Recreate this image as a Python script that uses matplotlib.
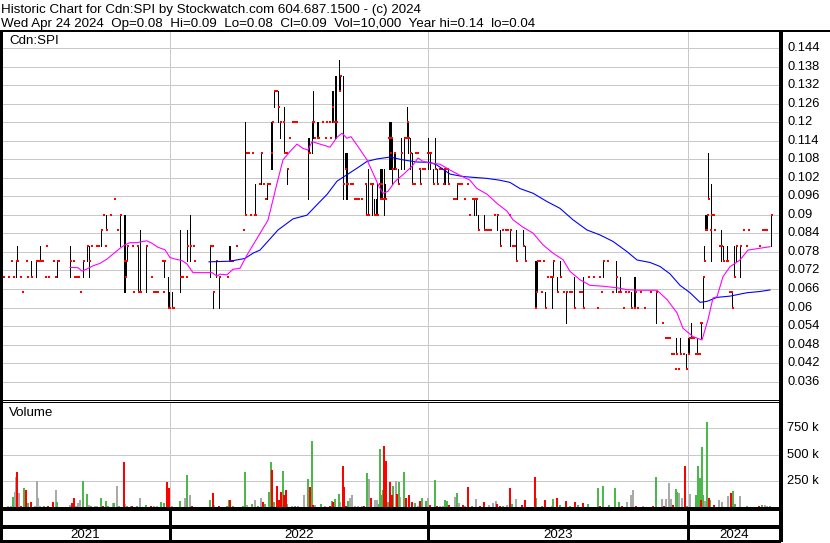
import matplotlib
matplotlib.use('Agg')
import matplotlib.pyplot as plt
from matplotlib.lines import Line2D

plt.rcParams['font.family'] = ['Liberation Sans', 'DejaVu Sans']

W, H, DPI = 830, 543, 100

# ---------------- data (trading-day index) ----------------
price_day = [1, 3, 8, 11, 13, 16, 17, 20, 22, 26, 27, 31, 36, 38, 40, 42, 45, 46, 48, 53, 55, 57, 58,
             70, 73, 74, 76, 78, 80, 83, 87, 89, 91, 96, 98, 101, 103, 105, 106, 110, 114, 117, 120,
             124, 125, 126, 127, 132, 133, 137, 138, 140, 146, 151, 153, 155, 157, 162, 163, 164,
             168, 169, 172, 173, 180, 182, 186, 187, 190, 193, 194, 210, 212, 213, 216, 219, 227,
             229, 230, 232, 236, 243,
             245, 246, 248, 250, 252, 254, 255, 259, 261, 263, 265, 267, 269, 271, 272, 274, 276,
             278, 280, 283, 284, 286, 287, 289, 292, 294, 296, 308, 309, 312, 313, 314, 317, 318,
             322, 325, 326, 329, 330, 332, 333, 335, 336, 339, 340, 343, 345, 346, 347, 350, 352,
             354, 356, 358, 361, 365, 366, 368, 370, 372, 374, 376, 377, 379, 380, 381, 382, 384,
             385, 388, 389, 390, 391, 392, 394, 395, 398, 401, 404, 406, 407, 408, 410, 412, 414,
             415, 417, 419,
             420, 422, 424, 427, 428, 430, 433, 435, 437, 439, 441, 443, 444, 445, 447, 448, 453,
             455, 457, 459, 461, 464, 467, 469, 472, 474, 476, 478, 484, 486, 488, 490, 494, 497,
             500, 502, 505, 507, 509, 510, 512, 514, 516, 523, 525, 535, 536, 537, 539, 541, 543,
             545, 547, 550, 552, 553, 557, 560, 563, 566, 569, 571, 574, 579, 581, 583, 588, 593,
             597, 599, 601, 603, 607, 612, 616, 618, 620, 623, 625, 628, 631, 634, 635, 637, 640,
             644, 650, 656, 662, 665, 667, 669, 671, 673, 675, 676, 678, 680, 683, 686, 688, 689,
             691, 693, 695, 697, 699, 700, 701, 703, 704, 705, 706, 707, 708, 710, 711, 713, 714,
             719, 721, 723, 726, 727, 729, 731, 732, 734, 736, 740, 743, 746, 748, 759, 762, 764,
             766, 771]
price_high = [.08, .07, .07, .075, .07, .075, .08, .07, .065, .075, .07, .075, .075, .075, .08, .075, .07, .08, .07, .075, .07, .075, .075,
              .08, .075, .07, .07, .07, .065, .075, .08, .08, .08, .08, .08, .085, .09, .08, .09, .09, .095, .085, .09,
              .09, .09, .075, .08, .08, .065, .08, .08, .085, .08, .07, .065, .065, .065, .075, .065, .075,
              .07, .065, .065, .06, .085, .07, .07, .085, .09, .08, .075, .08, .08, .065, .075, .07, .07,
              .08, .08, .075, .08, .085,
              .12, .11, .11, .09, .11, .09, .10, .10, .11, .10, .095, .10, .10, .12, .12, .13, .13,
              .13, .12, .12, .125, .11, .105, .115, .12, .12, .12, .115, .115, .12, .13, .115, .12, .12,
              .12, .115, .12, .12, .115, .13, .13, .135, .135, .14, .135, .135, .11, .11, .11, .10, .10,
              .095, .095, .095, .095, .10, .10, .105, .10, .10, .095, .095, .10, .10, .105, .105, .105, .105,
              .10, .115, .12, .12, .12, .115, .11, .11, .105, .115, .115, .115, .125, .12, .115, .11, .10,
              .11, .11, .105,
              .105, .105, .105, .11, .115, .11, .105, .115, .105, .105, .105, .10, .105, .105, .105, .105, .095,
              .095, .10, .10, .10, .095, .10, .09, .095, .095, .095, .09, .09, .085, .085, .085, .09, .09,
              .085, .085, .085, .085, .09, .085, .08, .08, .085, .085, .08, .075, .075, .075, .075, .065, .075,
              .065, .07, .07, .07, .075, .07, .075, .065, .065, .065, .065, .07, .065, .065, .07, .07, .07,
              .06, .07, .065, .075, .075, .065, .075, .065, .07, .06, .065, .065, .065, .07, .07, .06, .065,
              .06, .065, .065, .055, .05, .05, .05, .045, .045, .04, .05, .04, .05, .045, .045, .05, .05,
              .055, .05, .045, .05, .045, .055, .055, .07, .08, .09, .09, .09, .11, .085, .10, .09, .085,
              .08, .085, .08, .075, .08, .065, .065, .065, .08, .08, .08, .085, .08, .085, .08, .085, .085,
              .085, .09]
price_low = [.07, .07, .07, .075, .07, .07, .075, .07, .065, .075, .07, .07, .07, .075, .075, .075, .07, .08, .07, .075, .07, .07, .075,
             .07, .075, .07, .07, .07, .065, .07, .075, .07, .08, .08, .08, .08, .09, .08, .085, .09, .095, .085, .08,
             .065, .065, .07, .075, .08, .065, .08, .065, .065, .065, .07, .065, .065, .065, .075, .065, .07,
             .06, .06, .06, .06, .065, .07, .07, .075, .075, .08, .075, .07, .08, .06, .07, .06, .07,
             .075, .075, .075, .08, .085,
             .09, .11, .11, .09, .11, .09, .09, .10, .10, .10, .095, .095, .10, .105, .105, .125, .13,
             .12, .115, .12, .11, .11, .10, .115, .12, .12, .12, .095, .11, .11, .115, .115, .115, .115,
             .12, .115, .12, .12, .115, .12, .12, .115, .115, .13, .13, .095, .105, .095, .095, .10, .10,
             .095, .095, .095, .095, .10, .09, .09, .10, .09, .09, .09, .09, .10, .095, .095, .095, .09,
             .095, .115, .105, .105, .105, .10, .105, .105, .10, .105, .105, .115, .115, .11, .105, .10, .10,
             .11, .11, .105,
             .10, .105, .105, .11, .105, .105, .10, .105, .10, .105, .105, .10, .10, .10, .105, .10, .095,
             .095, .095, .10, .10, .095, .10, .09, .095, .09, .09, .085, .085, .085, .085, .085, .09, .085,
             .08, .085, .085, .085, .09, .08, .08, .08, .075, .08, .075, .06, .06, .065, .075, .065, .075,
             .06, .07, .07, .06, .07, .065, .07, .065, .055, .065, .065, .06, .065, .065, .06, .07, .07,
             .06, .07, .065, .07, .075, .065, .065, .065, .065, .06, .065, .065, .06, .06, .06, .06, .065,
             .06, .065, .055, .055, .05, .05, .05, .045, .045, .04, .045, .04, .045, .045, .04, .045, .045,
             .05, .05, .045, .045, .045, .055, .05, .06, .075, .085, .085, .085, .095, .085, .075, .09, .085,
             .08, .075, .075, .075, .075, .065, .065, .06, .07, .075, .07, .085, .08, .085, .08, .085, .085,
             .085, .08]
price_close = [.07, .07, .07, .075, .07, .075, .075, .07, .065, .075, .07, .07, .075, .075, .075, .075, .07, .08, .07, .075, .07, .075, .075,
               .075, .075, .07, .07, .07, .065, .075, .08, .075, .08, .08, .08, .085, .09, .08, .085, .09, .095, .085, .09,
               .075, .07, .075, .08, .08, .065, .08, .065, .065, .08, .07, .065, .065, .065, .075, .065, .075,
               .06, .06, .06, .06, .07, .07, .07, .08, .08, .08, .075, .08, .08, .065, .075, .07, .07,
               .075, .075, .075, .08, .085,
               .09, .11, .11, .09, .11, .09, .09, .10, .11, .10, .095, .10, .10, .11, .12, .13, .13,
               .125, .12, .12, .11, .11, .105, .115, .12, .12, .12, .11, .11, .12, .12, .115, .115, .115,
               .12, .115, .12, .12, .115, .125, .12, .12, .12, .13, .135, .10, .105, .10, .10, .10, .10,
               .095, .095, .095, .095, .10, .09, .09, .10, .10, .09, .09, .09, .10, .095, .10, .095, .095,
               .095, .115, .115, .11, .115, .105, .11, .105, .10, .11, .115, .115, .12, .115, .11, .10, .10,
               .11, .11, .105,
               .10, .105, .105, .11, .11, .11, .10, .105, .10, .105, .105, .10, .105, .105, .105, .10, .095,
               .095, .10, .10, .10, .095, .10, .09, .095, .095, .095, .085, .085, .085, .085, .085, .09, .09,
               .08, .085, .085, .085, .09, .085, .08, .08, .075, .08, .075, .06, .065, .075, .075, .065, .075,
               .06, .07, .07, .07, .075, .065, .07, .065, .065, .065, .065, .06, .065, .065, .06, .07, .07,
               .06, .07, .065, .075, .075, .065, .07, .065, .065, .06, .065, .065, .06, .06, .065, .06, .065,
               .06, .065, .065, .055, .05, .05, .05, .045, .045, .04, .045, .04, .045, .045, .04, .045, .05,
               .05, .05, .045, .045, .045, .055, .055, .07, .075, .085, .085, .09, .095, .085, .09, .09, .085,
               .08, .08, .075, .075, .075, .065, .065, .06, .07, .08, .08, .085, .08, .085, .08, .085, .085,
               .085, .09]

ma_short_day = [70, 78, 82, 87, 93, 100, 107, 113, 120, 125, 130, 137, 143, 147, 152, 158, 165, 170, 175,
                182, 187, 193, 200, 212, 217, 220, 227, 233, 240, 247, 260, 268, 277, 283, 290, 297, 303,
                308, 312, 320, 330, 337, 342, 347, 351, 358, 367, 373, 379, 383, 388, 395, 403, 412, 418,
                423, 430, 440, 450, 460, 470, 477, 487, 497, 507, 513, 523, 533, 543, 553, 563, 570, 580,
                590, 603, 617, 627, 640, 657, 667, 677, 683, 693, 702, 708, 713, 717, 723, 730, 740, 748,
                760, 770]
ma_short = [.0730, .0729, .0718, .0725, .0735, .0743, .0757, .0773, .0792, .0803, .0810, .0810, .0814,
            .0816, .0808, .0795, .0787, .0762, .0757, .0752, .0741, .0713, .0713, .0713, .0702, .0708,
            .0706, .0724, .0727, .0770, .0840, .0883, .1002, .1078, .1105, .1129, .1115, .1110, .1137,
            .1129, .1119, .1151, .1164, .1148, .1153, .1121, .1078, .1035, .0992, .0970, .0976, .1008,
            .1030, .1057, .1084, .1073, .1068, .1064, .1045, .1028, .1012, .0985, .0967, .0937, .0912,
            .0884, .0860, .0841, .0803, .0776, .0755, .0717, .0690, .0672, .0669, .0664, .0658, .0656,
            .0656, .0626, .0583, .0533, .0506, .0495, .0561, .0631, .0635, .0700, .0732, .0754, .0786,
            .0792, .0797]

ma_long_day = [209, 230, 245, 253, 260, 278, 293, 307, 317, 327, 337, 347, 357, 367, 377, 390, 403, 417,
               430, 437, 450, 463, 487, 500, 510, 520, 533, 547, 560, 573, 587, 600, 613, 627, 637, 650,
               660, 670, 680, 690, 700, 707, 717, 730, 747, 760, 770]
ma_long = [.0748, .0750, .0759, .0776, .0786, .0851, .0887, .0899, .0933, .0966, .1009, .1030, .1051,
           .1073, .1081, .1087, .1078, .1071, .1070, .1061, .1032, .1024, .1018, .1012, .1005, .0985,
           .0970, .0943, .0921, .0884, .0851, .0835, .0814, .0781, .0754, .0746, .0733, .0709, .0672,
           .0648, .0617, .0620, .0633, .0637, .0648, .0652, .0657]

# volume (thousands of shares): up days, down days, unchanged days
vol_up_day = [1, 13, 24, 28, 44, 57, 83, 87, 91, 101, 106, 108, 114, 119, 127, 137, 146, 161, 164, 180,
              187, 210, 227, 229, 233, 243, 245, 252, 258, 265, 269, 271, 274, 283, 287, 295, 308, 312,
              321, 332, 335, 339, 348, 367, 379, 380, 382, 383, 388, 393, 399, 404, 415, 422, 426, 435,
              445, 447, 457, 472, 503, 512, 536, 542, 553, 560, 570, 578, 588, 598, 603, 609, 615, 619,
              656, 676, 677, 687, 696, 698, 700, 702, 703, 707, 710, 733, 735, 747, 762, 770]
vol_up = [10, 95, 185, 40, 10, 47, 250, 120, 8, 90, 54, 6, 38, 10, 10, 8, 16, 44, 38, 54,
          310, 63, 8, 63, 5, 5, 330, 25, 8, 25, 140, 425, 44, 340, 25, 8, 270, 630,
          25, 54, 80, 125, 54, 320, 25, 555, 110, 165, 47, 205, 235, 330, 38, 85, 54, 260,
          63, 54, 130, 10, 5, 25, 88, 10, 80, 16, 5, 16, 25, 183, 205, 16, 183, 47,
          290, 174, 142, 5, 115, 391, 277, 575, 115, 814, 67, 148, 30, 10, 15, 10]
vol_down_day = [12, 17, 21, 26, 31, 48, 53, 72, 74, 103, 124, 132, 151, 167, 169, 192, 213, 219, 230,
                263, 272, 277, 279, 281, 284, 286, 310, 313, 330, 333, 343, 344, 346, 364, 371, 384,
                386, 390, 392, 397, 406, 409, 412, 420, 430, 437, 449, 463, 468, 480, 484, 497, 500,
                510, 522, 525, 535, 545, 557, 566, 575, 583, 600, 622, 636, 653, 664, 673, 685, 701,
                709, 714, 731, 759]
vol_down = [4, 330, 5, 165, 47, 5, 47, 38, 85, 8, 425, 6, 6, 243, 186, 10, 130, 5, 63,
            44, 350, 205, 63, 140, 110, 165, 195, 16, 5, 47, 395, 195, 10, 8, 90, 585,
            440, 235, 110, 125, 82, 110, 44, 54, 16, 8, 16, 16, 190, 10, 44, 25, 8,
            186, 16, 70, 290, 63, 88, 54, 44, 38, 5, 8, 8, 8, 5, 16, 395, 67,
            86, 20, 138, 10]
vol_flat_day = [8, 11, 15, 16, 19, 35, 37, 38, 40, 56, 70, 76, 78, 80, 89, 95, 97, 113, 117, 125, 131,
                140, 154, 157, 172, 185, 190, 209, 214, 247, 255, 261, 292, 298, 304, 315, 325, 340,
                350, 352, 355, 358, 362, 369, 375, 377, 396, 400, 418, 428, 440, 443, 455, 459, 465,
                476, 489, 493, 496, 507, 516, 552, 627, 631, 633, 643, 662, 666, 669, 671, 679, 682,
                690, 705, 719, 722, 728, 740, 765, 767]
vol_flat = [5, 5, 140, 290, 130, 8, 245, 85, 10, 160, 15, 10, 38, 63, 16, 5, 5, 38, 205, 25, 5,
            82, 5, 5, 8, 82, 110, 4, 15, 16, 70, 88, 8, 8, 110, 16, 5, 47,
            90, 110, 10, 10, 8, 270, 63, 63, 250, 95, 10, 90, 5, 8, 100, 38, 8,
            80, 16, 38, 54, 16, 80, 8, 47, 110, 158, 8, 76, 80, 228, 80, 130, 88,
            120, 60, 67, 48, 105, 105, 15, 10]

price_ticks = [0.144, 0.138, 0.132, 0.126, 0.12, 0.114, 0.108, 0.102, 0.096, 0.09, 0.084, 0.078,
               0.072, 0.066, 0.06, 0.054, 0.048, 0.042, 0.036]
price_tick_labels = ['0.144', '0.138', '0.132', '0.126', '0.12', '0.114', '0.108', '0.102', '0.096',
                     '0.09', '0.084', '0.078', '0.072', '0.066', '0.06', '0.054', '0.048', '0.042', '0.036']
vol_ticks = [250000, 500000, 750000]
vol_tick_labels = ['250 k', '500 k', '750 k']
year_bounds = [0, 170, 428, 688, 781]
year_labels = ['2021', '2022', '2023', '2024']

title_line1 = 'Historic Chart for Cdn:SPI by Stockwatch.com 604.687.1500 - (c) 2024'
title_line2 = ('Wed Apr 24 2024  Op=0.08  Hi=0.09  Lo=0.08  Cl=0.09  Vol=10,000  '
               'Year hi=0.14  lo=0.04')

# ---------------- layout helpers ----------------
fig = plt.figure(figsize=(W / DPI, H / DPI), dpi=DPI)
fig.patch.set_facecolor('white')
PT = 72.0 / DPI  # one pixel in points


def px_axes(x0, y0, x1, y1):
    return fig.add_axes([x0 / W, 1 - y1 / H, (x1 - x0) / W, (y1 - y0) / H])


def fy(y):
    return 1 - y / H


def fx(x):
    return x / W


def fline(xs, ys, lw_px, color='black'):
    fig.add_artist(Line2D([fx(v) for v in xs], [fy(v) for v in ys], lw=lw_px * PT,
                          color=color, solid_capstyle='butt', antialiased=False))


GRID = '#c8c8c8'
FS = 9.3
FS_HEAD = 9.6

# ---------------- price panel ----------------
axp = px_axes(0, 32, 781, 400)
p_top = 0.144 + (48 - 32) / 3090.0
p_bot = 0.144 - (400 - 48) / 3090.0
axp.set_xlim(0, 781)
axp.set_ylim(p_bot, p_top)
axp.axis('off')
for t in price_ticks:
    axp.axhline(t, color=GRID, lw=PT, antialiased=False, zorder=0)
for xb in year_bounds[1:-1]:
    axp.axvline(xb, color=GRID, lw=PT, antialiased=False, zorder=0)

axp.vlines(price_day, price_low, price_high, color='black', lw=0.9 * PT, antialiased=False, zorder=3)
axp.hlines(price_close, [d - 0.3 for d in price_day], [d + 1.9 for d in price_day],
           color='#ff0000', lw=2 * PT, antialiased=False, zorder=4)
axp.plot(ma_long_day, ma_long, color='#0000ff', lw=1.1 * PT, zorder=5)
axp.plot(ma_short_day, ma_short, color='#ff00ff', lw=1.1 * PT, zorder=6)
axp.text(9, 0.144 + (48 - 41.5) / 3090.0, 'Cdn:SPI', fontsize=FS_HEAD, va='center', ha='left')

# ---------------- volume panel ----------------
axv = px_axes(0, 402, 781, 507)
axv.set_xlim(0, 781)
axv.set_ylim(0, (507 - 402) / 26.2 * 250000)
axv.axis('off')
for t in vol_ticks:
    axv.axhline(t, color=GRID, lw=PT, antialiased=False, zorder=0)
for xb in year_bounds[1:-1]:
    axv.axvline(xb, color=GRID, lw=PT, antialiased=False, zorder=0)
for days, vols, col in ((vol_flat_day, vol_flat, '#a9a9a9'),
                        (vol_up_day, vol_up, '#4cb84c'),
                        (vol_down_day, vol_down, '#ff0000')):
    axv.bar(days, [v * 1000 for v in vols], width=2.0, color=col,
            linewidth=0, antialiased=False, zorder=2)
axv.text(9, (507 - 413.5) / 26.2 * 250000, 'Volume', fontsize=FS_HEAD, va='center', ha='left')

# ---------------- frame lines ----------------
fline([0, W], [31, 31], 2)
fline([1, 1], [31, 542], 2.5)
fline([781, 781], [31, 542], 2.5)
fline([0, 781], [400, 400], 1)
fline([0, 781], [402, 402], 1)
fline([0, 781], [508.5, 508.5], 2.5)
fline([0, 781], [526.5, 526.5], 2.5)
fline([0, 781], [541.5, 541.5], 2.5)
for xb in year_bounds[1:-1]:
    fline([xb, xb], [509, 541], 1.2)

# ---------------- texts ----------------
fig.text(fx(1), fy(13), title_line1, fontsize=FS_HEAD, va='baseline', ha='left')
fig.text(fx(1), fy(27.5), title_line2, fontsize=FS_HEAD, va='baseline', ha='left')
for t, lab in zip(price_ticks, price_tick_labels):
    y = 48 + (0.144 - t) * 3090
    fig.text(fx(787), fy(y), lab, fontsize=FS, va='center', ha='left')
for t, lab in zip(vol_ticks, vol_tick_labels):
    y = 507 - t / 250000 * 26.2
    fig.text(fx(787), fy(y), lab, fontsize=FS, va='center', ha='left')
for i, lab in enumerate(year_labels):
    xc = (year_bounds[i] + year_bounds[i + 1]) / 2
    fig.text(fx(xc), fy(534.5), lab, fontsize=FS_HEAD, va='center', ha='center')

fig.savefig('out.png', dpi=DPI, facecolor='white')
